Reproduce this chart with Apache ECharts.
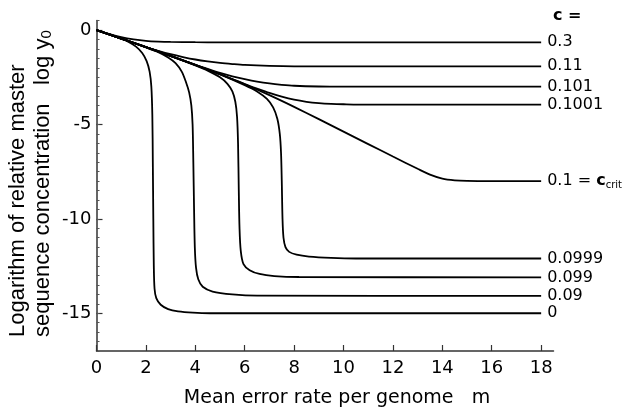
<!DOCTYPE html>
<html>
<head>
<meta charset="utf-8">
<script src="https://cdn.jsdelivr.net/npm/echarts@6/dist/echarts.min.js"></script>
<style>html,body{margin:0;padding:0;background:#fff}#chart{width:624px;height:419px}</style>
</head>
<body>
<div id="chart"></div>
<script>
// Data: [m, log y0]
const c03 = [[0,0],[0.5,-0.2],[1,-0.37],[1.5,-0.49],[2,-0.57],[2.5,-0.61],[3,-0.63],[4,-0.645],[5,-0.65],[18,-0.65]];
const c011 = [[0,0],[0.5,-0.22],[1,-0.45],[1.5,-0.68],[2,-0.9],[2.5,-1.1],[3,-1.28],[3.5,-1.43],[4,-1.56],[4.5,-1.66],[5,-1.74],[5.5,-1.8],[6,-1.85],[7,-1.9],[8,-1.92],[18,-1.92]];
const c0101 = [[0,0],[1,-0.45],[2,-0.9],[3,-1.37],[4,-1.84],[4.5,-2.06],[5,-2.27],[5.5,-2.45],[6,-2.6],[6.5,-2.73],[7,-2.83],[7.5,-2.9],[8,-2.95],[9,-2.99],[10,-3.0],[18,-3.0]];
const c01001 = [[0,0],[1,-0.45],[2,-0.9],[3,-1.37],[4,-1.85],[5,-2.34],[5.5,-2.6],[6,-2.86],[6.5,-3.1],[7,-3.33],[7.5,-3.53],[8,-3.69],[8.5,-3.8],[9,-3.87],[9.5,-3.91],[10,-3.93],[11,-3.95],[18,-3.95]];
const c01 = [[0,0],[1,-0.45],[2,-0.9],[3,-1.37],[4,-1.85],[5,-2.34],[6,-2.87],[7,-3.45],[8,-4.07],[9,-4.72],[10,-5.38],[11,-6.04],[12,-6.7],[13,-7.35],[13.5,-7.66],[14,-7.87],[14.5,-7.96],[15,-7.99],[16,-8],[18,-8]];
const c00999 = [[0,0],[1,-0.45],[2,-0.9],[3,-1.37],[4,-1.85],[5,-2.35],[6,-2.92],[6.5,-3.25],[6.9,-3.65],[7.15,-4.1],[7.32,-4.7],[7.42,-5.5],[7.47,-6.5],[7.5,-8],[7.53,-10],[7.57,-11],[7.65,-11.5],[7.8,-11.75],[8.1,-11.9],[8.6,-12.0],[9.5,-12.07],[10.5,-12.1],[18,-12.1]];
const c0099 = [[0,0],[1,-0.45],[2,-0.9],[3,-1.38],[4,-1.88],[4.5,-2.15],[5,-2.5],[5.3,-2.85],[5.5,-3.25],[5.62,-3.8],[5.69,-4.6],[5.73,-6],[5.76,-8.5],[5.79,-10.5],[5.84,-11.7],[5.95,-12.4],[6.2,-12.72],[6.6,-12.92],[7.2,-13.03],[8.2,-13.08],[18,-13.1]];
const c009 = [[0,0],[1,-0.45],[2,-0.92],[2.5,-1.17],[2.9,-1.45],[3.2,-1.75],[3.45,-2.2],[3.62,-2.75],[3.75,-3.3],[3.84,-4.0],[3.89,-5],[3.92,-7],[3.95,-9.5],[3.98,-11.5],[4.03,-12.6],[4.12,-13.2],[4.3,-13.6],[4.7,-13.85],[5.5,-14.0],[6.5,-14.07],[18,-14.08]];
const c0 = [[0,0],[0.5,-0.22],[1,-0.46],[1.3,-0.63],[1.6,-0.88],[1.85,-1.22],[2.03,-1.65],[2.15,-2.2],[2.22,-3],[2.26,-4.5],[2.28,-7],[2.3,-10],[2.32,-12.5],[2.35,-13.7],[2.42,-14.2],[2.6,-14.55],[2.9,-14.78],[3.3,-14.9],[3.9,-14.97],[4.6,-15],[18,-15]];

const seriesData = [c03, c011, c0101, c01001, c01, c00999, c0099, c009, c0];
const seriesNames = ['0.3', '0.11', '0.101', '0.1001', '0.1', '0.0999', '0.099', '0.09', '0'];

const xTicks = [0, 2, 4, 6, 8, 10, 12, 14, 16, 18];
const yTicks = [0, -5, -10, -15];
const yMinorTicks = [];
for (let v = 0.5; v >= -17; v -= 0.5) yMinorTicks.push(v);

const FONT = 'DejaVu Sans';
const NAMEFONT = 'Liberation Sans';
const chart = echarts.init(document.getElementById('chart'), null, {renderer: 'canvas'});

const series = seriesData.map((d, i) => ({
  name: seriesNames[i],
  type: 'line',
  data: d,
  showSymbol: false,
  smooth: 0.3,
  animation: false,
  lineStyle: {color: '#000', width: 1.8},
  z: 3,
  endLabel: {
    show: true,
    distance: 6,
    color: '#000',
    fontFamily: FONT,
    fontSize: 16,
    formatter: seriesNames[i] === '0.1' ? '0.1 = {c|c}{sub|crit}' : seriesNames[i],
    rich: {
      c: {fontFamily: FONT, fontSize: 16, fontWeight: 'bold', color: '#000'},
      sub: {fontFamily: FONT, fontSize: 10, color: '#000', padding: [8, 0, 0, 0]}
    }
  }
}));

chart.setOption({
  animation: false,
  backgroundColor: '#fff',
  title: {
    text: 'c =',
    left: 548, top: 3,
    textStyle: {fontFamily: FONT, fontSize: 16, fontWeight: 'bold', color: '#000'}
  },
  grid: {left: 96.5, right: 70.5, top: 20.6, bottom: 68, containLabel: false},
  xAxis: {
    type: 'value', min: 0, max: 18.5,
    name: 'Mean error rate per genome   m',
    nameLocation: 'middle', nameGap: 38,
    nameTextStyle: {fontFamily: FONT, fontSize: 19, color: '#000', padding: [0, 0, 0, 24]},
    axisLine: {show: true, onZero: false, lineStyle: {color: '#333', width: 1.5}},
    axisTick: {show: true, inside: true, length: 6, customValues: xTicks, lineStyle: {color: '#333', width: 1.2}},
    axisLabel: {customValues: xTicks, fontFamily: FONT, fontSize: 18, color: '#000', margin: 8},
    splitLine: {show: false}
  },
  yAxis: [{
    type: 'value', min: -17, max: 0.5,
    axisLine: {show: true, onZero: false, lineStyle: {color: '#333', width: 1.5}},
    axisTick: {show: true, inside: true, length: 6, customValues: yTicks, lineStyle: {color: '#333', width: 1.2}},
    axisLabel: {customValues: yTicks, fontFamily: FONT, fontSize: 18, color: '#000', margin: 5},
    splitLine: {show: false}
  }, {
    type: 'value', min: -17, max: 0.5, position: 'left',
    axisLine: {show: false, onZero: false},
    axisTick: {show: true, inside: true, length: 3, customValues: yMinorTicks, lineStyle: {color: '#555', width: 1}},
    axisLabel: {show: false},
    splitLine: {show: false}
  }],
  graphic: [{
    type: 'text',
    x: 30, y: 337,
    rotation: Math.PI / 2,
    style: {
      text: 'Logarithm of relative master\nsequence concentration   log {s|y}{sub|0}',
      fontFamily: NAMEFONT, fontSize: 22, fill: '#000',
      lineHeight: 25,
      align: 'left', verticalAlign: 'middle',
      rich: {
        s: {fontFamily: NAMEFONT, fontSize: 22, fill: '#000'},
        sub: {fontFamily: NAMEFONT, fontSize: 15, fill: '#000', padding: [9, 0, 0, 0]}
      }
    }
  }],
  series: series
});
</script>
</body>
</html>
